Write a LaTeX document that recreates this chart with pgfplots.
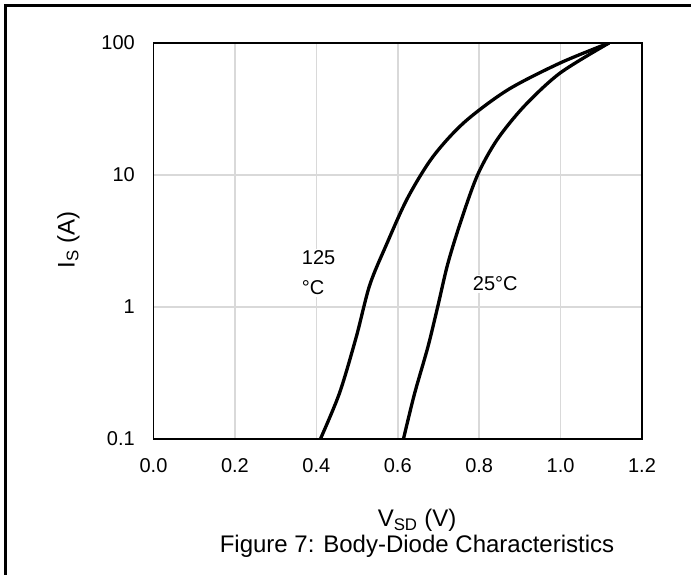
\documentclass[border=0pt]{standalone}
\usepackage{fontspec}
\setmainfont{Liberation Sans}
\usepackage{pgfplots}
\pgfplotsset{compat=1.18}
\definecolor{gridgray}{HTML}{D9D9D9}

\begin{document}
\begin{tikzpicture}[x=1pt,y=1pt]
\useasboundingbox (0,0) rectangle (691,575);
\begin{scope}
  \clip (0,0) rectangle (691,575);
  \draw[line width=3pt] (5.5,-20) -- (5.5,569.5) -- (720,569.5);
\end{scope}
\begin{axis}[
    at={(153.5pt,136pt)}, anchor=south west,
    scale only axis, width=488.5pt, height=396pt,
    xmin=0, xmax=1.2,
    ymode=log, ymin=0.1, ymax=100,
    xtick={0,0.2,0.4,0.6,0.8,1.0,1.2},
    ytick={0.1,1,10,100}, yticklabels={0.1,1,10,100},
    yminorticks=false,
    grid=major,
    major grid style={draw=gridgray, line width=1.5pt},
    axis line style={line width=1.6pt},
    tick style={draw=none},
    xticklabel={\pgfmathprintnumber[fixed,fixed zerofill,precision=1,assume math mode=true]{\tick}},
    xticklabel style={font=\fontsize{20}{22}\selectfont, inner sep=0pt, anchor=north, yshift=-19.3pt},
    yticklabel style={font=\fontsize{20}{22}\selectfont, inner sep=0pt, anchor=east, xshift=-18.5pt},
  ]
  % 125 C
  \addplot[black, line width=3.3pt, smooth, no markers] table {
    V     I
    0.410 0.1
    0.457 0.223
    0.498 0.592
    0.531 1.46
    0.572 2.96
    0.624 6.68
    0.686 13.7
    0.763 25.0
    0.870 44.1
    0.999 70.6
    1.119 100
  };
  % 25 C
  \addplot[black, line width=3.3pt, smooth, no markers] table {
    V     I
    0.614 0.1
    0.641 0.219
    0.674 0.497
    0.698 1
    0.723 2.13
    0.756 4.56
    0.796 10
    0.844 18.5
    0.911 33.3
    0.999 59.3
    1.119 100
  };
\end{axis}
\node[anchor=base west, fill=white, inner sep=2pt, align=left,
      font=\fontsize{20}{30}\selectfont] at (299.7,280.3) {125\\°C};
\node[anchor=base west, fill=white, inner sep=2pt,
      font=\fontsize{20}{22}\selectfont] at (470.7,284) {25°C};
\node[rotate=90, font=\fontsize{24}{28}\selectfont] at (68.5,335) {I\textsubscript{S} (A)};
\node[anchor=base, font=\fontsize{24}{28}\selectfont] at (417,48) {V\textsubscript{SD} (V)};
\node[anchor=base, font=\fontsize{24}{28}\selectfont] at (417,22) {Figure 7: Body-Diode Characteristics};
\end{tikzpicture}
\end{document}
